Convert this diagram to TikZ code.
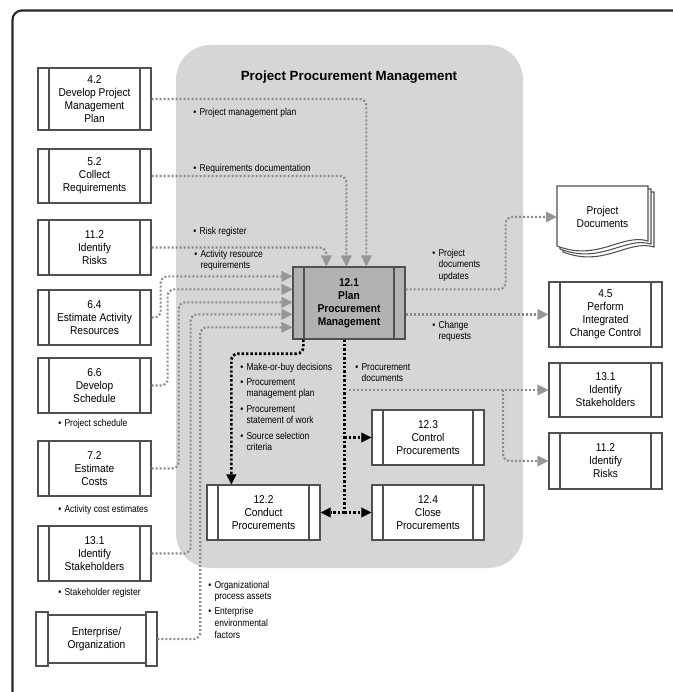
\documentclass[tikz,border=0pt]{standalone}
\usepackage{fontspec}
\setmainfont{Liberation Sans}[FakeStretch=0.9]
\newfontfamily\lblfont{Liberation Sans}[FakeStretch=0.85]
\newfontfamily\ttlfont{Liberation Sans}
\usetikzlibrary{arrows.meta,calc}

\definecolor{regionc}{RGB}{214,214,214}
\definecolor{boxc}{RGB}{80,80,80}
\definecolor{conc}{RGB}{140,140,140}
\definecolor{arrc}{RGB}{150,150,150}
\definecolor{mainc}{RGB}{178,178,178}
\definecolor{framec}{RGB}{40,40,40}

\tikzset{
  proc/.style={draw=boxc, line width=1pt, fill=white, align=center, inner sep=0pt,
    font=\fontsize{8.5}{9.75}\selectfont,
    path picture={\draw[boxc, line width=1pt]
      ([xshift=8.25pt]path picture bounding box.north west) -- ([xshift=8.25pt]path picture bounding box.south west)
      ([xshift=-8.25pt]path picture bounding box.north east) -- ([xshift=-8.25pt]path picture bounding box.south east);}},
  gline/.style={draw=conc, line width=1.6pt, dash pattern=on 1.5pt off 1.5pt, rounded corners=5pt},
  garrow/.style={gline, -{Triangle[length=8pt,width=8pt,line width=0.1pt,fill=arrc,color=arrc]}},
  bline/.style={draw=black, line width=2pt, dash pattern=on 1.8pt off 1.5pt, rounded corners=5pt},
  barrow/.style={bline, -{Triangle[length=7.5pt,width=7.5pt,line width=0.1pt]}},
  lbl/.style={font=\lblfont\fontsize{7.5}{8.8}\selectfont, inner sep=0pt, anchor=base west},
}

% process box given by its corners (x1,y1) and (x2,y2) in pixel units
\newcommand\procnode[7][]{%
  \node[proc, minimum width={(#5-#3)*0.75pt}, minimum height={(#6-#4)*0.75pt}, #1]
    (#2) at ({(#3+#5)/2},{(#4+#6)/2}) {#7};}
% bulleted list of data items
\newcommand\itemtab[1]{\begin{tabular}[t]{@{}l@{\hspace{2.5pt}}l@{}}#1\end{tabular}}

\begin{document}
\begin{tikzpicture}[x=0.75pt,y=-0.75pt]
\useasboundingbox (0,0) rectangle (673,692);
\clip (0,0) rectangle (673,692);
\fill[white] (0,0) rectangle (673,692);

% outer frame
\draw[framec, line width=1.6pt, rounded corners=7pt] (12.5,720) -- (12.5,10.5) -- (700,10.5);

% knowledge area region
\fill[regionc, rounded corners=26pt] (176,45) rectangle (523,568);
\node[font=\ttlfont\bfseries\fontsize{10}{12}\selectfont] (title) at (349,77) {Project Procurement Management};

% project documents (stack of pages)
\foreach \s in {6,3,0}{
  \draw[boxc, line width=0.8pt, fill=white, shift={(\s,\s)}]
    (557,186) -- (648,186) -- (648,241) .. controls (622,233) and (598,262) .. (557,246) -- cycle;
}
\node[minimum width={91*0.75pt}, minimum height={62*0.75pt}, inner sep=0pt, align=center,
      font=\fontsize{8.5}{9.75}\selectfont] (docs) at (602.5,217) {Project\\Documents};

% input processes
\procnode{p42}{38}{68}{151}{130}{4.2\\Develop Project\\Management\\Plan}
\procnode{p52}{38}{149}{151}{203}{5.2\\Collect\\Requirements}
\procnode{p112}{38}{220}{151}{275}{11.2\\Identify\\Risks}
\procnode{p64}{38}{290}{151}{345}{6.4\\Estimate Activity\\Resources}
\procnode{p66}{38}{358}{151}{413}{6.6\\Develop\\Schedule}
\procnode{p72}{38}{441}{151}{496}{7.2\\Estimate\\Costs}
\procnode{p131}{38}{526}{151}{581}{13.1\\Identify\\Stakeholders}

% enterprise / organization
\draw[boxc, line width=1pt] (48,615) rectangle (146,663);
\draw[boxc, line width=1pt] (36,612) rectangle (48,666);
\draw[boxc, line width=1pt] (146,612) rectangle (157,666);
\node[minimum width={121*0.75pt}, minimum height={54*0.75pt}, inner sep=0pt, align=center,
      font=\fontsize{8.5}{9.75}\selectfont] (pent) at (96.5,639) {Enterprise/\\Organization};

% output processes
\procnode{p45}{549}{282}{662}{347}{4.5\\Perform\\Integrated\\Change Control}
\procnode{r131}{549}{363}{662}{417}{13.1\\Identify\\Stakeholders}
\procnode{r112}{549}{433}{662}{489}{11.2\\Identify\\Risks}

% procurement processes
\procnode[fill=mainc, font=\bfseries\fontsize{8.5}{9.75}\selectfont]{pm}{293}{267}{405}{339}{12.1\\Plan\\Procurement\\Management}
\procnode{p122}{207}{485}{320}{540}{12.2\\Conduct\\Procurements}
\procnode{p123}{372}{410}{484}{465}{12.3\\Control\\Procurements}
\procnode{p124}{372}{485}{484}{540}{12.4\\Close\\Procurements}

% inputs
\draw[garrow] (p42.east) -| ($(pm.north west)+(74,0)$);
\draw[garrow] (p52.east) -| ($(pm.north west)+(54,0)$);
\draw[garrow] (p112.east) -| ($(pm.north west)+(34,0)$);
\draw[garrow] (p64.east) -- ++(9,0) |- ($(pm.north west)+(0,10)$);
\draw[garrow] (p66.east) -- ++(16,0) |- ($(pm.north west)+(0,23)$);
\draw[garrow] (p72.east) -- ++(27,0) |- ($(pm.north west)+(0,36)$);
\draw[garrow] (p131.east) -- ++(39,0) |- ($(pm.north west)+(0,48)$);
\draw[garrow] (pent.east) -- ++(43,0) |- ($(pm.north west)+(0,61)$);

% outputs
\draw[garrow] ($(pm.north east)+(0,23)$) -- ++(100,0) |- (docs.west);
\draw[garrow] (pm.east |- p45.west) -- (p45.west);
\coordinate (pd) at (349,390);
\draw[garrow] (pd) -- (r131.west);
\draw[garrow] (pd) ++(154,0) |- (r112.west);

% flow to the other procurement processes
\coordinate (pmb) at ($(pm.south west)+(52,0)$);
\coordinate (jn) at (pmb |- p122.east);
\draw[bline] (pmb) -- (jn);
\draw[barrow] (jn) -- (p122.east);
\draw[barrow] (jn) -- (p124.west);
\draw[barrow] (pmb |- p123.west) -- (p123.west);
\draw[barrow] ($(pm.south west)+(11,0)$) -- ++(0,14) -| ($(p122.north west)+(25,0)$);

% data labels
\node[lbl] (l1) at (193,115) {\itemtab{\textbullet & Project management plan}};
\node[lbl] (l2) at (193,171) {\itemtab{\textbullet & Requirements documentation}};
\node[lbl] (l3) at (193,234) {\itemtab{\textbullet & Risk register}};
\node[lbl] (l4) at (194,257) {\itemtab{\textbullet & Activity resource\\ & requirements}};
\node[lbl] (l5) at (58,426) {\itemtab{\textbullet & Project schedule}};
\node[lbl] (l6) at (58,512) {\itemtab{\textbullet & Activity cost estimates}};
\node[lbl] (l7) at (58,595) {\itemtab{\textbullet & Stakeholder register}};
\node[lbl] (l8) at (208,588) {\itemtab{\textbullet & Organizational\\ & process assets\\[2.6pt]
  \textbullet & Enterprise\\ & environmental\\ & factors}};
\node[lbl] (l9) at (240,370) {\itemtab{\textbullet & Make-or-buy decisions\\[2.6pt]
  \textbullet & Procurement\\ & management plan\\[2.6pt]
  \textbullet & Procurement\\ & statement of work\\[2.6pt]
  \textbullet & Source selection\\ & criteria}};
\node[lbl] (l10) at (355,370) {\itemtab{\textbullet & Procurement\\ & documents}};
\node[lbl] (l11) at (432,256) {\itemtab{\textbullet & Project\\ & documents\\ & updates}};
\node[lbl] (l12) at (432,328) {\itemtab{\textbullet & Change\\ & requests}};
\end{tikzpicture}
\end{document}
